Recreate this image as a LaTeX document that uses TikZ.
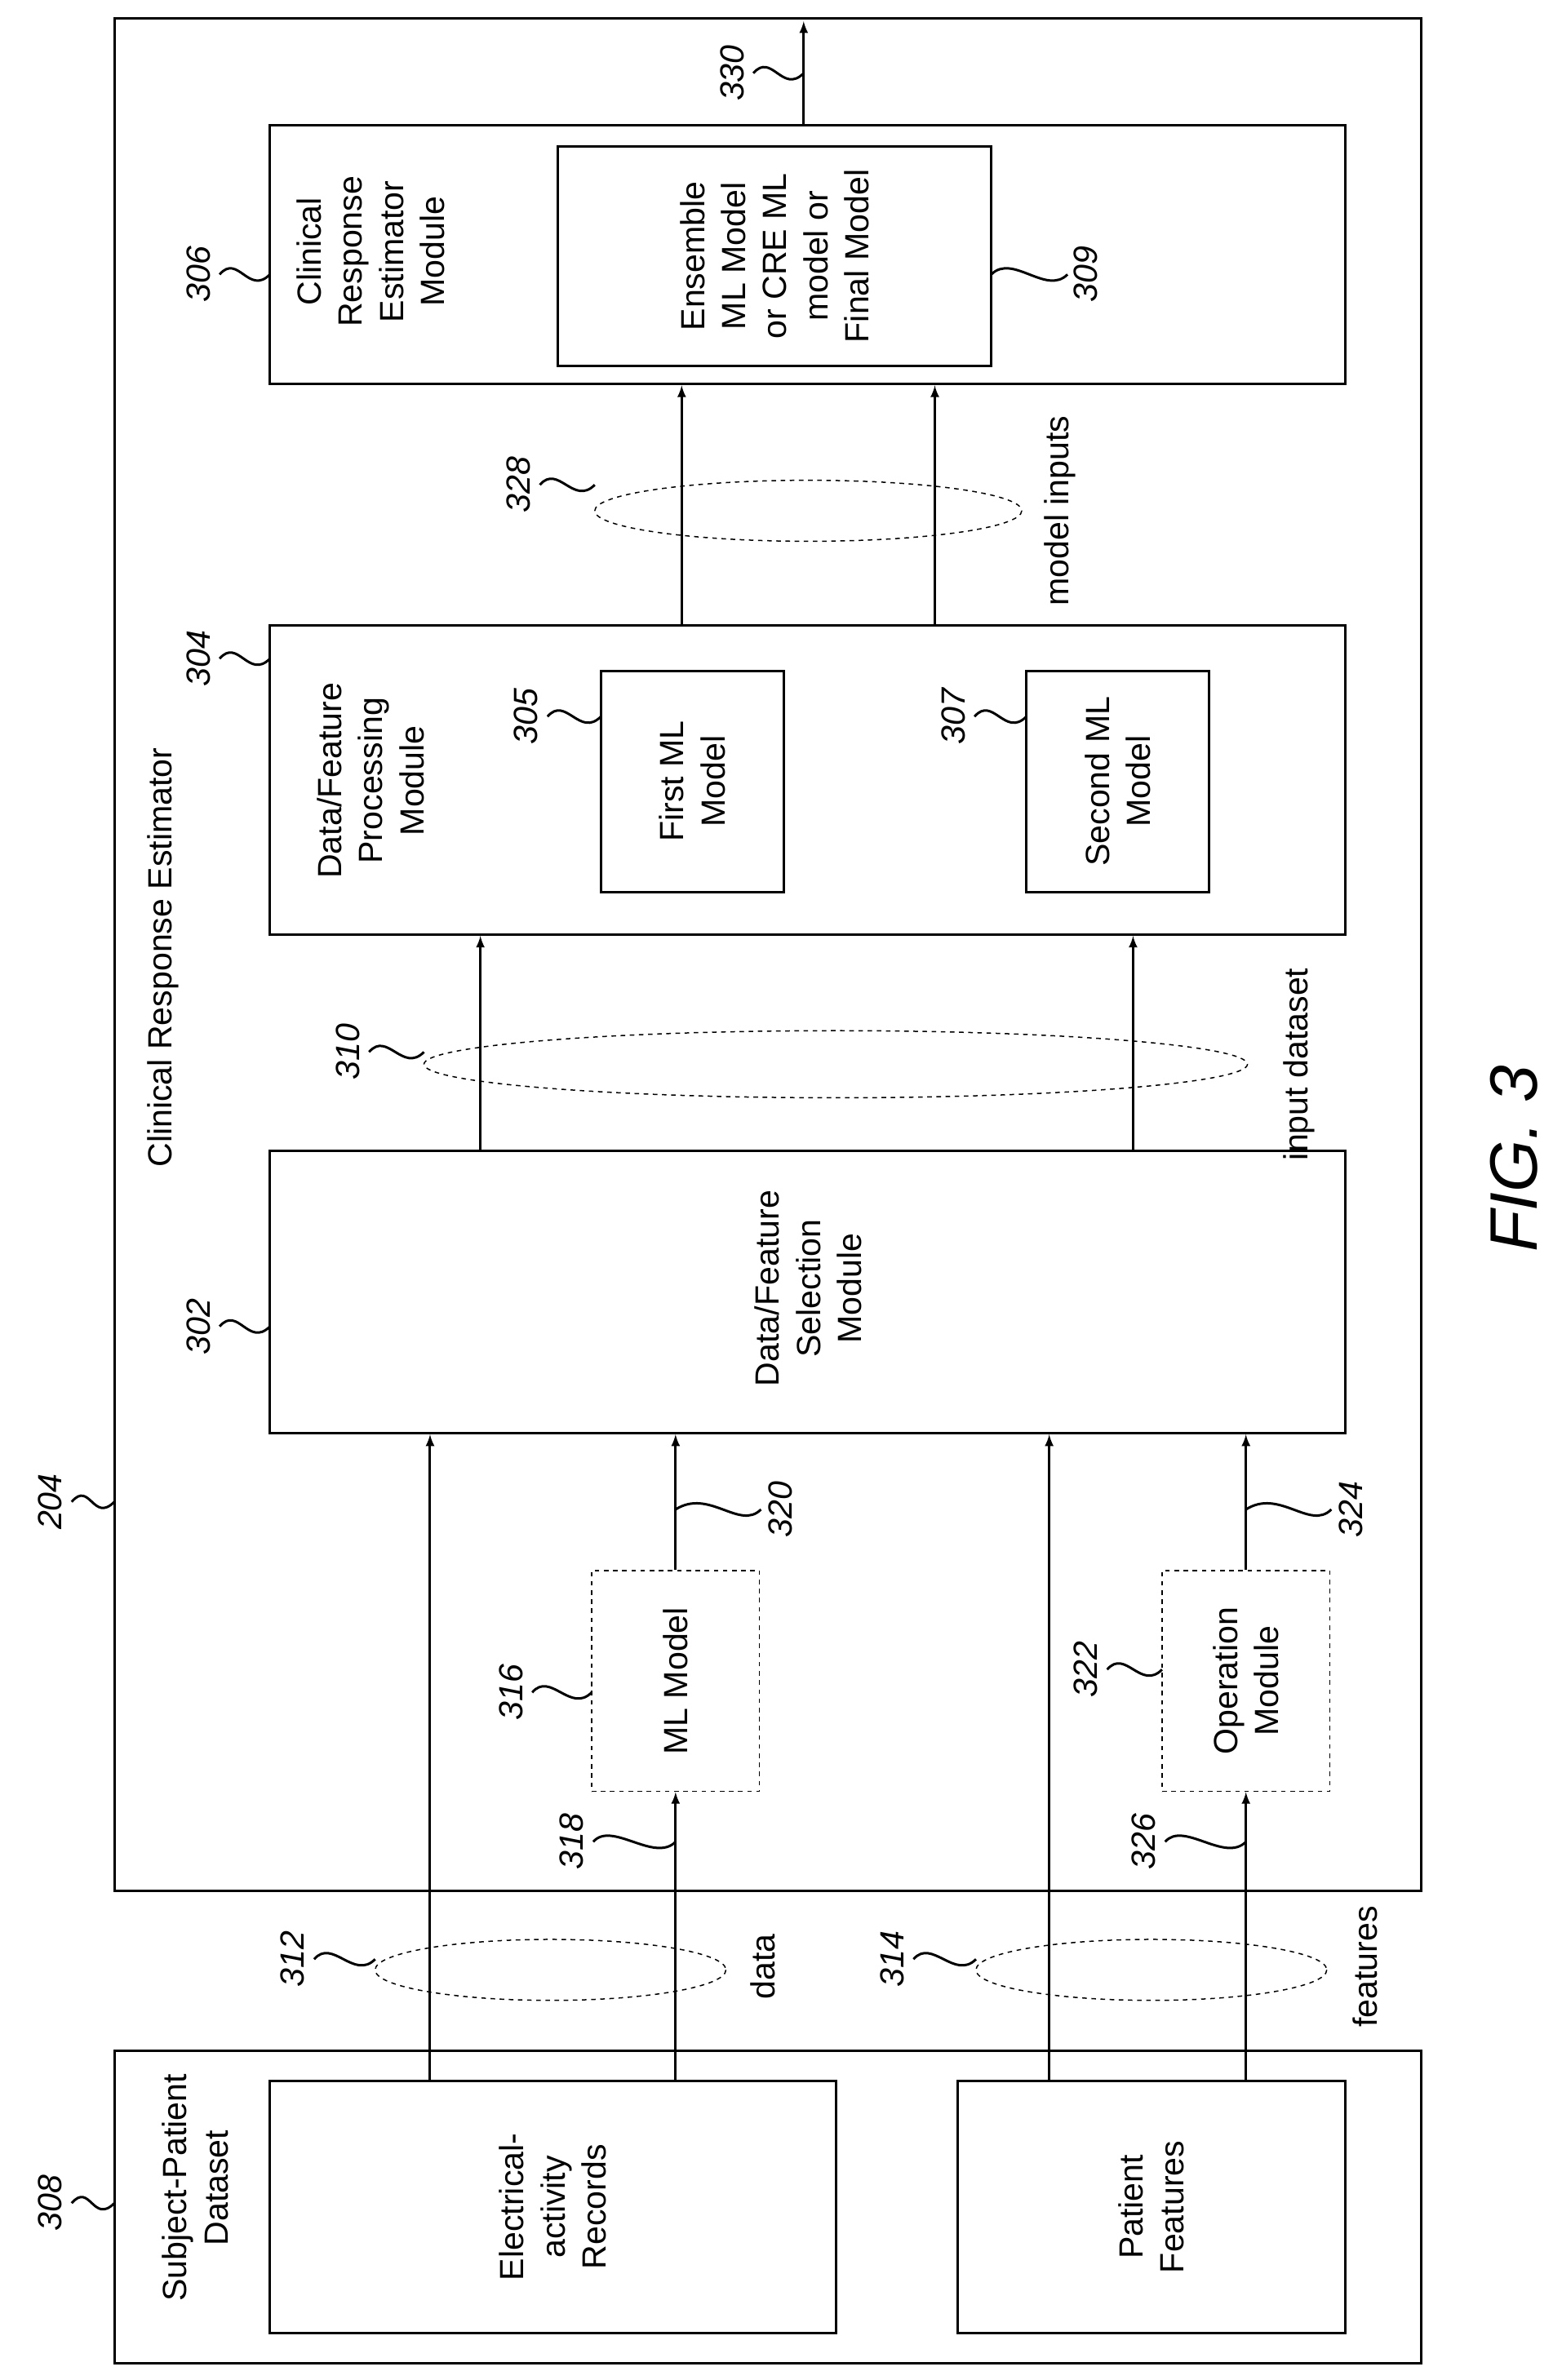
\documentclass[tikz,border=0pt]{standalone}
\usepackage{fontspec}
\setmainfont{Liberation Sans}
\usetikzlibrary{positioning,calc}
\tikzset{%
	box/.style    = {draw, line width=1.6pt, rectangle, inner sep=0pt},
	dbox/.style   = {draw, dashed, line width=0.8pt, rectangle, inner sep=0pt},
	txt/.style    = {rotate=90, align=center, font=\fontsize{22}{27}\selectfont},
	num/.style    = {rotate=90, font=\fontsize{22}{27}\selectfont\itshape},
	arr/.style    = {line width=1.6pt, -latex},
	ring/.style   = {draw, dashed, line width=0.8pt},
	leader/.style = {line width=1.6pt},
}
% label number with a wavy leader from (x,y) to (x2,y)
\newcommand{\refnum}[5]{%
	\node[num] (#1) at (#2,#3) {#4};
	\draw[leader] ($(#2,#3)+(14,0)$) .. controls ($(#2,#3)+(26,-14)$) and ($(#5,#3)+(-14,14)$) .. (#5,#3);
}
\begin{document}
\begin{tikzpicture}[x=1pt,y=-1pt]
	\useasboundingbox (0,0) rectangle (1024,1561);
	% boxes
	\node[box,minimum width=857,minimum height=1228] (cre) at (503.5,626) {};
	\node[box,minimum width=857,minimum height=205] (spd) at (503.5,1447.5) {};
	\node[box,minimum width=371,minimum height=165] (rec) at (362.5,1447.5) {};
	\node[box,minimum width=254,minimum height=165] (pat) at (755,1447.5) {};
	\node[box,minimum width=705,minimum height=185] (sel) at (529.5,847.5) {};
	\node[box,minimum width=705,minimum height=203] (proc) at (529.5,511.5) {};
	\node[box,minimum width=120,minimum height=145] (ml1) at (454,512.5) {};
	\node[box,minimum width=120,minimum height=145] (ml2) at (733,512.5) {};
	\node[box,minimum width=705,minimum height=170] (est) at (529.5,167) {};
	\node[box,minimum width=284,minimum height=144] (ens) at (508,168) {};
	\node[dbox,minimum width=110,minimum height=145] (mlm) at (443,1102.5) {};
	\node[dbox,minimum width=110,minimum height=145] (opm) at (817,1102.5) {};
	% texts
	\node[txt] (tcre) at (107,628) {Clinical Response Estimator};
	\node[txt] (tspd) at (128,1435) {Subject-Patient\\Dataset};
	\node[txt] at (rec) {Electrical-\\activity\\Records};
	\node[txt] at (pat) {Patient\\Features};
	\node[txt] at (530,845) {Data/Feature\\Selection\\Module};
	\node[txt] at (243,512) {Data/Feature\\Processing\\Module};
	\node[txt] at (243,165) {Clinical\\Response\\Estimator\\Module};
	\node[txt] at (ens) {Ensemble\\ML Model\\or CRE ML\\model or\\Final Model};
	\node[txt] at (ml1) {First ML\\Model};
	\node[txt] at (ml2) {Second ML\\Model};
	\node[txt] at (mlm) {ML Model};
	\node[txt] at (opm) {Operation\\Module};
	\node[txt] (tdat) at (500,1290) {data};
	\node[txt] (tfea) at (895,1290) {features};
	\node[txt] (tinp) at (852,698) {input dataset};
	\node[txt] (tmod) at (695,335) {model inputs};
	% connectors
	\draw[arr] (rec.north -| 282,0) -- (sel.south -| 282,0);
	\draw[arr] (rec.north -| 443,0) -- (mlm.south);
	\draw[arr] (mlm.north) -- (sel.south -| 443,0);
	\draw[arr] (pat.north -| 688,0) -- (sel.south -| 688,0);
	\draw[arr] (pat.north -| 817,0) -- (opm.south);
	\draw[arr] (opm.north) -- (sel.south -| 817,0);
	\draw[arr] (sel.north -| 315,0) -- (proc.south -| 315,0);
	\draw[arr] (sel.north -| 743,0) -- (proc.south -| 743,0);
	\draw[arr] (proc.north -| 447,0) -- (est.south -| 447,0);
	\draw[arr] (proc.north -| 613,0) -- (est.south -| 613,0);
	\coordinate (out) at (527,14);
	\draw[arr] (est.north -| 527,0) -- (out);
	% bundles
	\draw[ring] (361,1292) ellipse (115 and 20);
	\draw[ring] (755,1292) ellipse (115 and 20);
	\draw[ring] (548,698) ellipse (270 and 22);
	\draw[ring] (530,335) ellipse (140 and 20);
	% reference numbers
	\refnum{n308}{33}{1445}{308}{75}
	\refnum{n204}{33}{985}{204}{75}
	\refnum{n302}{130}{870}{302}{177}
	\refnum{n306}{130}{180}{306}{177}
	\refnum{n304}{130}{432}{304}{177}
	\refnum{n305}{345}{470}{305}{394}
	\refnum{n307}{625}{470}{307}{673}
	\refnum{n310}{228}{690}{310}{278}
	\refnum{n328}{340}{318}{328}{390}
	\refnum{n312}{192}{1285}{312}{246}
	\refnum{n314}{585}{1285}{314}{640}
	\refnum{n316}{335}{1110}{316}{388}
	\refnum{n318}{375}{1208}{318}{443}
	\refnum{n322}{712}{1095}{322}{762}
	\refnum{n326}{750}{1208}{326}{817}
	\refnum{n330}{480}{48}{330}{527}
	% labels on the right side of the line
	\node[num] (n309) at (712,180) {309};
	\draw[leader] (650,180) .. controls (664,166) and (686,194) .. (700,180);
	\node[num] (n320) at (512,990) {320};
	\draw[leader] (443,990) .. controls (465,976) and (485,1004) .. (499,990);
	\node[num] (n324) at (886,990) {324};
	\draw[leader] (817,990) .. controls (839,976) and (859,1004) .. (873,990);
	% figure label
	\node[rotate=90, font=\fontsize{44}{52}\selectfont\itshape] (fig) at (993,760) {FIG. 3};
\end{tikzpicture}
\end{document}
